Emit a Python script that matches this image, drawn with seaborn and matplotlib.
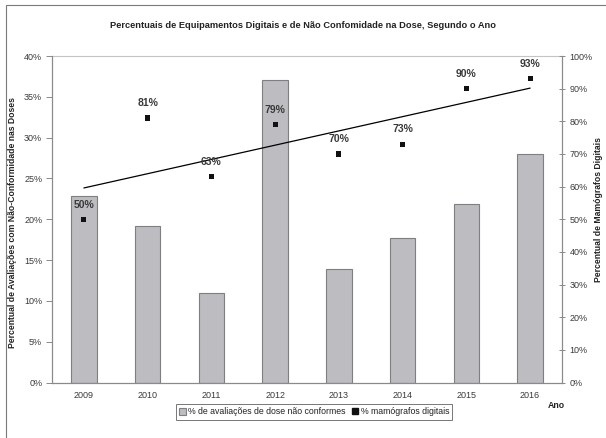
import numpy as np
import pandas as pd
import matplotlib
matplotlib.use("Agg")
import matplotlib.pyplot as plt
from matplotlib.ticker import PercentFormatter
from matplotlib.patches import Patch, Rectangle
from matplotlib.lines import Line2D
import seaborn as sns

sns.set_theme(style="white")
plt.rcParams["font.family"] = ["Liberation Sans", "DejaVu Sans"]

# Data
anos = ["2009", "2010", "2011", "2012", "2013", "2014", "2015", "2016"]
nao_conformes = [22.8, 19.2, 11.0, 37.0, 13.9, 17.7, 21.9, 28.0]   # % de avaliações de dose não conformes
digitais = [50, 81, 63, 79, 70, 73, 90, 93]                        # % mamógrafos digitais

df = pd.DataFrame({"ano": anos, "nc": nao_conformes, "dig": digitais,
                   "pos": np.arange(len(anos))})

W, H = 606, 438
fig = plt.figure(figsize=(W / 100, H / 100), dpi=100)
fig.patch.set_facecolor("white")

# chart frame
fig.patches.append(Rectangle((6 / W, -0.1), 1.2, (H - 5) / H + 0.1, transform=fig.transFigure,
                             fill=False, edgecolor="#7a7a7a", linewidth=0.8))

left, right, top, bottom = 52, 562, 56, 382.5
ax = fig.add_axes([left / W, (H - bottom) / H, (right - left) / W, (bottom - top) / H])

bar_color = "#bdbdc1"
edge_color = "#7f7f7f"
axis_color = "#8a8a8a"
text_color = "#3a3a3a"

sns.barplot(data=df, x="ano", y="nc", color=bar_color, edgecolor=edge_color,
            linewidth=0.8, width=0.4, saturation=1, ax=ax)
ax.set_ylim(0, 40)
ax.set_xlim(-0.5, len(anos) - 0.5)
ax.set_yticks(np.arange(0, 41, 5))
ax.yaxis.set_major_formatter(PercentFormatter(decimals=0))
ax.set_xlabel("")
ax.set_ylabel("Percentual de Avaliações com Não-Conformidade nas Doses",
              fontsize=6.2, fontweight="bold", color="#222222")
ax.yaxis.set_label_coords((17 - left) / (right - left), 0.49)
ax.tick_params(axis="y", direction="out", length=4, width=0.7, color=axis_color,
               labelsize=6.5, labelcolor=text_color, pad=3)
ax.tick_params(axis="x", length=0, labelsize=6.5, labelcolor=text_color, pad=6)
ax.set_xticks(np.arange(-0.5, len(anos), 1.0), minor=True)
ax.tick_params(axis="x", which="minor", direction="inout", length=5, width=0.7, color=axis_color)
for s in ["left", "bottom", "right"]:
    ax.spines[s].set_color(axis_color)
    ax.spines[s].set_linewidth(0.8)
ax.spines["top"].set_color("#c4c4c4")
ax.spines["top"].set_linewidth(0.8)

# secondary axis: share of digital equipment
ax2 = ax.twinx()
sns.regplot(data=df, x="pos", y="dig", scatter=False, ci=None, ax=ax2,
            line_kws={"color": "black", "linewidth": 0.9})
sns.scatterplot(data=df, x="pos", y="dig", marker="s", s=14, color="#111111",
                edgecolor="none", ax=ax2, zorder=5)
for p, v in zip(df["pos"], df["dig"]):
    ax2.annotate(f"{v}%", (p, v), xytext=(0, 7), textcoords="offset points",
                 ha="center", va="bottom", fontsize=7.5, fontweight="bold", color=text_color)
ax2.set_ylim(0, 100)
ax2.set_xlim(-0.5, len(anos) - 0.5)
ax2.set_yticks(np.arange(0, 101, 10))
ax2.yaxis.set_major_formatter(PercentFormatter(decimals=0))
ax2.set_xlabel("")
ax2.set_ylabel("Percentual de Mamógrafos Digitais", fontsize=6.2, fontweight="bold",
               color="#222222", rotation=90)
ax2.yaxis.set_label_coords((594 - left) / (right - left), 0.53)
ax2.tick_params(axis="y", direction="inout", length=5, width=0.7, color=axis_color,
                labelsize=6.5, labelcolor=text_color, pad=3)
for s in ["left", "bottom", "right"]:
    ax2.spines[s].set_color(axis_color)
    ax2.spines[s].set_linewidth(0.8)
ax2.spines["top"].set_visible(False)
ax2.grid(False)
ax.grid(False)

fig.text(303 / W, 1 - 25 / H,
         "Percentuais de Equipamentos Digitais e de Não Confomidade na Dose, Segundo o Ano",
         ha="center", va="center", fontsize=6.7, fontweight="bold", color="#222222")
fig.text(556 / W, 1 - 406 / H, "Ano", ha="center", va="center", fontsize=6.3,
         fontweight="bold", color="#222222")

handles = [Patch(facecolor=bar_color, edgecolor=edge_color, linewidth=0.8),
           Line2D([], [], marker="s", linestyle="none", color="#111111", markersize=4.2)]
leg = fig.legend(handles, ["% de avaliações de dose não conformes", "% mamógrafos digitais"],
                 loc="center", bbox_to_anchor=(314 / W, 1 - 412 / H), ncol=2,
                 fontsize=6.3, frameon=True, fancybox=False, handlelength=0.8,
                 handleheight=0.8, handletextpad=0.3, columnspacing=0.6,
                 borderpad=0.35, labelcolor="#222222")
leg.get_frame().set_edgecolor("#555555")
leg.get_frame().set_linewidth(0.7)

fig.savefig("out.png", dpi=100, facecolor="white")
